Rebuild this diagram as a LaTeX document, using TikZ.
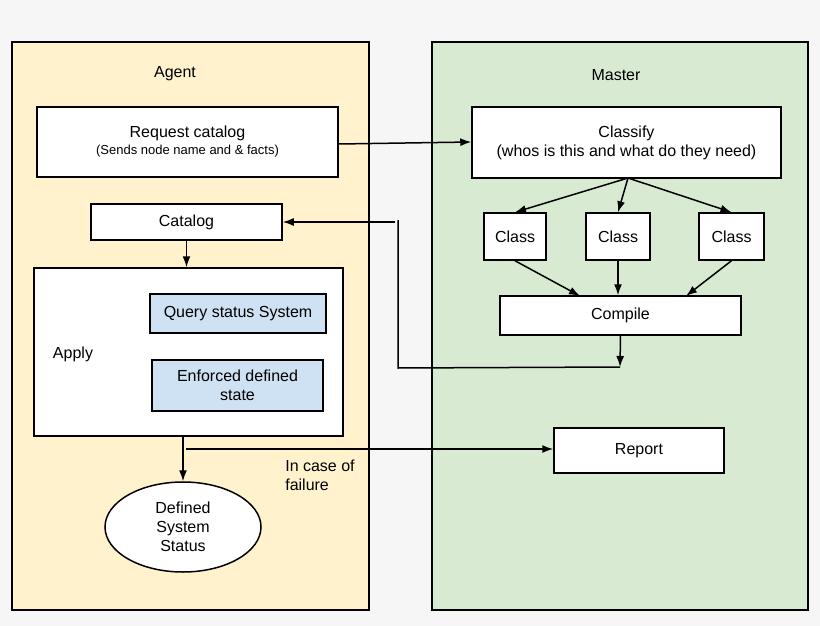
\documentclass[tikz,border=0pt]{standalone}
\usepackage{fontspec}
\setmainfont{Liberation Sans}
\usetikzlibrary{arrows.meta,shapes.geometric}
\definecolor{agentbg}{RGB}{255,242,204}
\definecolor{masterbg}{RGB}{217,234,211}
\definecolor{bluebox}{RGB}{207,226,243}
\definecolor{pagebg}{RGB}{246,246,246}
\begin{document}
\begin{tikzpicture}[x=1pt,y=-1pt,
  box/.style={draw=black,line width=1.5pt,fill=white,align=center,font=\fontsize{16}{19}\selectfont},
  bbox/.style={box,fill=bluebox},
  arr/.style={-{Latex[length=11pt,width=8pt]},line width=1.5pt},
  ln/.style={line width=1.5pt}]
\useasboundingbox (0,0) rectangle (820,626);
\fill[pagebg] (0,0) rectangle (820,626);
\draw[fill=agentbg,line width=1.2pt] (12,42) rectangle (369,610);
\draw[fill=masterbg,line width=1.2pt] (432,42) rectangle (808,610);
\node[font=\fontsize{16}{19}\selectfont] (agent) at (175,74) {Agent};
\node[font=\fontsize{16}{19}\selectfont] (master) at (616,75) {Master};
\node[box,minimum width=301pt,minimum height=70pt] (req) at (187.5,142) {Request catalog\\[-2pt]{\fontsize{13}{15}\selectfont (Sends node name and \& facts)}};
\node[box,minimum width=309pt,minimum height=71pt] (cls) at (626.5,142.5) {Classify\\(whos is this and what do they need)};
\node[box,minimum width=191pt,minimum height=36pt] (cat) at (186.5,222) {Catalog};
\node[box,minimum width=62pt,minimum height=47pt] (c1) at (515,236.5) {Class};
\node[box,minimum width=64pt,minimum height=47pt] (c2) at (618,236.5) {Class};
\node[box,minimum width=65pt,minimum height=47pt] (c3) at (731.5,236.5) {Class};
\node[box,minimum width=241pt,minimum height=39pt] (comp) at (620.5,315.5) {Compile};
\node[box,minimum width=309pt,minimum height=168pt] (apply) at (188.5,352) {};
\node[font=\fontsize{16}{19}\selectfont] (applyl) at (73,354) {Apply};
\node[bbox,minimum width=176pt,minimum height=39pt] (q) at (238,313.5) {Query status System};
\node[bbox,minimum width=171pt,minimum height=51pt] (enf) at (237.5,385.5) {Enforced defined\\state};
\node[box,minimum width=170pt,minimum height=45pt] (rep) at (639,450.5) {Report};
\node[draw,ellipse,line width=1.5pt,fill=white,minimum width=156pt,minimum height=90pt,align=center,font=\fontsize{16}{19}\selectfont] (def) at (183,527) {Defined\\System\\Status};
\node[align=left,font=\fontsize{16}{19}\selectfont] (fail) at (320,475) {In case of\\failure};
\coordinate (cj) at (620,367);
\coordinate (lc) at (398,368);
\coordinate (lt) at (398,220);
\coordinate (ls) at (395,222);
\coordinate (fs) at (186,449);
\draw[arr] (req.east |- 0,144) -- (cls.west |- 0,142);
\draw[arr] (628,178) -- (c1.north);
\draw[arr] (628,178) -- (c2.north);
\draw[arr] (628,178) -- (c3.north);
\draw[arr] (c1.south) -- (580,296);
\draw[arr] (c2.south) -- (c2.south |- comp.north);
\draw[arr] (c3.south) -- (686,296);
\draw[arr] (comp.south) -- (cj);
\draw[ln] (cj) -- (lc) -- (lt);
\draw[arr] (ls) -- (cat.east);
\draw[arr] (cat.south) -- (cat.south |- apply.north);
\draw[arr] (183,436) -- (def.north);
\draw[arr] (fs) -- (rep.west |- fs);
\end{tikzpicture}
\end{document}
